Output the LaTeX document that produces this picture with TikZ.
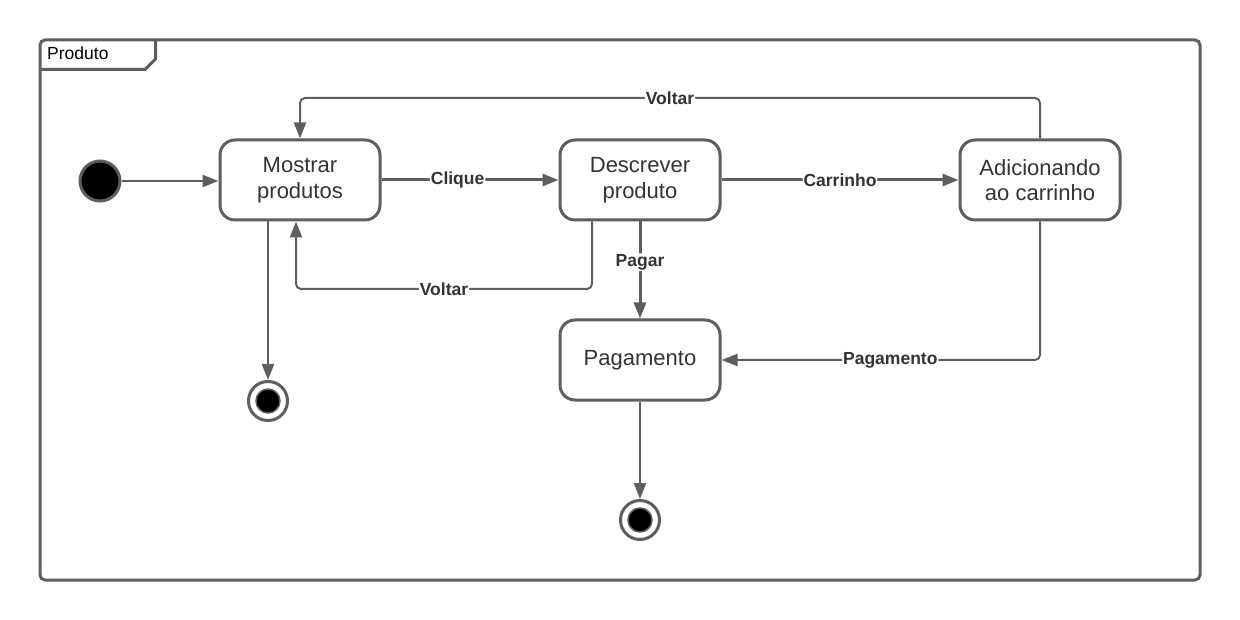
\documentclass[tikz,border=0pt]{standalone}
\usepackage{fontspec}
\setmainfont{Liberation Sans}
\usetikzlibrary{arrows.meta,calc}
\definecolor{ln}{HTML}{5E5E5E}
\definecolor{tx}{HTML}{333333}
\begin{document}
\begin{tikzpicture}[x=1pt,y=-1pt,
  state/.style={draw=ln,line width=3pt,rounded corners=15pt,fill=white,
    minimum width=160pt,minimum height=80pt,align=center,text=tx,
    font=\fontsize{22}{25.5}\selectfont,inner sep=0pt},
  lbl/.style={fill=white,text=tx,font=\fontsize{17.5}{20}\selectfont\bfseries,inner sep=1pt},
  thinedge/.style={draw=ln,line width=2pt,rounded corners=5pt,-{Triangle[length=16pt,width=12pt]}},
  thickedge/.style={draw=ln,line width=3pt,rounded corners=5pt,-{Triangle[length=16pt,width=12pt]}},
  initst/.style={circle,draw=ln,line width=3pt,fill=black,minimum size=40pt,inner sep=0pt},
]
\useasboundingbox (0,0) rectangle (1240,620);
% frame
\draw[ln,line width=3pt,rounded corners=5pt] (40,40) rectangle (1200,580);
\draw[ln,line width=3pt] (40,69.5) -- (145,69.5) -- (155.5,59) -- (155.5,40);
\node[anchor=west,text=black,font=\fontsize{17.5}{20}\selectfont,inner sep=0pt] (title) at (47,53) {Produto};

% nodes
\node[initst] (init) at (100,181) {};
\node[state] (mostrar) at (300,180) {Mostrar\\produtos};
\node[state] (descr) at (640,180) {Descrever\\produto};
\node[state] (adic) at (1040,180) {Adicionando\\ao carrinho};
\node[state] (pag) at (640,360) {Pagamento};

% final states
\node[circle,draw=ln,line width=3pt,fill=white,minimum size=39pt,inner sep=0pt] (fin1) at (268,401) {};
\node[circle,draw=ln,line width=1.5pt,fill=black,minimum size=24pt,inner sep=0pt] (fin1i) at (fin1) {};
\node[circle,draw=ln,line width=3pt,fill=white,minimum size=39pt,inner sep=0pt] (fin2) at (640,520) {};
\node[circle,draw=ln,line width=1.5pt,fill=black,minimum size=24pt,inner sep=0pt] (fin2i) at (fin2) {};

% edges
\draw[thinedge] (init.east) -- (init.east -| mostrar.west);
\draw[thickedge] (mostrar.east) -- node[lbl,pos=0.43]{Clique} (descr.west);
\draw[thickedge] (descr.east) -- node[lbl]{Carrinho} (adic.west);
\draw[thinedge] (adic.north) -- (adic.north |- 0,98) -- node[lbl]{Voltar} (mostrar.north |- 0,98) -- (mostrar.north);
\coordinate (dv) at ($(descr.south)+(-48,0)$);
\coordinate (mv) at ($(mostrar.south)+(-4,0)$);
\draw[thinedge] (dv) -- (dv |- 0,289) -- node[lbl]{Voltar} (mv |- 0,289) -- (mv);
\draw[thickedge] (descr.south) -- node[lbl,pos=0.42]{Pagar} (pag.north);
\draw[thinedge] (adic.south) -- (adic.south |- pag.east) -- node[lbl,pos=0.47]{Pagamento} (pag.east);
\coordinate (mf) at ($(mostrar.south)+(-32,0)$);
\draw[thinedge] (mf) -- (fin1.north);
\draw[thinedge] (pag.south) -- (fin2.north);
\end{tikzpicture}
\end{document}
